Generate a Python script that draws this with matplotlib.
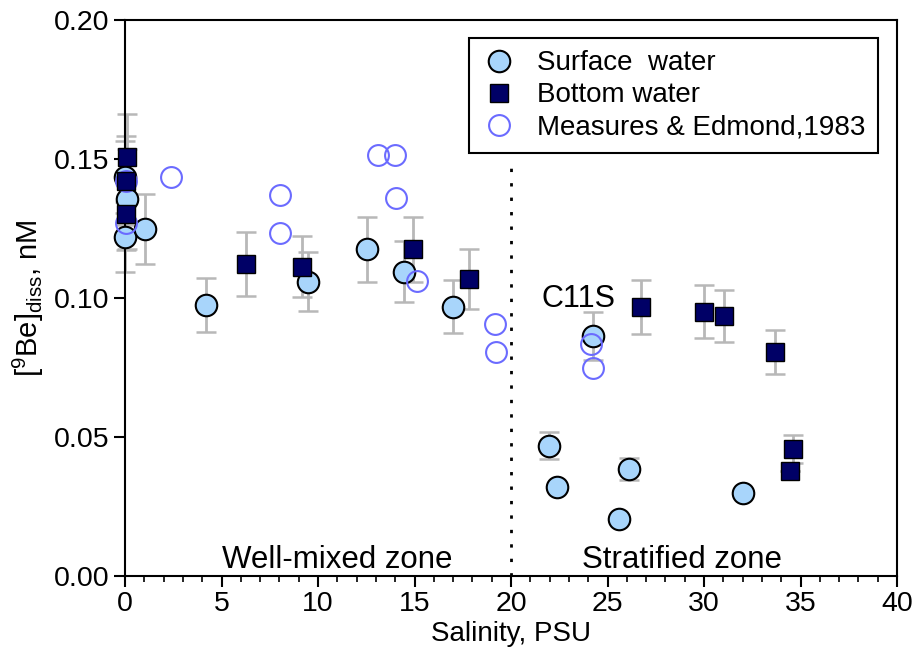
import numpy as np
import matplotlib.pyplot as plt
from matplotlib.lines import Line2D
from matplotlib.ticker import MultipleLocator, FormatStrFormatter

plt.rcParams['font.family'] = ['Liberation Sans', 'DejaVu Sans']
plt.rcParams['mathtext.fontset'] = 'custom'
plt.rcParams['mathtext.rm'] = 'Liberation Sans'
plt.rcParams['mathtext.it'] = 'Liberation Sans:italic'

# surface water samples
surf_sal = [0.0, 0.09, 0.0, 1.04, 4.2, 9.5, 12.52, 14.46, 16.98, 24.26, 21.97, 22.37, 26.13, 25.6, 32.04]
surf_be = [0.1436, 0.1356, 0.1219, 0.1248, 0.0975, 0.1059, 0.1175, 0.1095, 0.0969, 0.0863,
           0.0469, 0.0319, 0.0384, 0.0204, 0.0297]
surf_err = [0.013, 0.018, 0.0125, 0.0125, 0.0096, 0.0105, 0.0118, 0.011, 0.0094, 0.0086,
            0.0048, 0.001, 0.004, 0.0, 0.0]

# bottom water samples
bot_sal = [0.09, 0.05, 0.05, 6.25, 9.16, 14.94, 17.84, 26.72, 30.02, 31.05, 33.68, 34.63, 34.46]
bot_be = [0.1507, 0.1422, 0.1302, 0.1122, 0.1113, 0.1175, 0.1068, 0.0967, 0.0951, 0.0935,
          0.0807, 0.0456, 0.0379]
bot_err = [0.0155, 0.016, 0.013, 0.0114, 0.011, 0.0118, 0.0109, 0.0096, 0.0096, 0.0094,
           0.0079, 0.005, 0.0]

# Measures & Edmond, 1983
me_sal = [0.05, 0.05, 2.37, 8.03, 8.03, 13.12, 13.99, 14.04, 15.15, 19.19, 19.22, 24.13, 24.23]
me_be = [0.1422, 0.127, 0.1436, 0.137, 0.1233, 0.1514, 0.1514, 0.1361, 0.1061, 0.0905,
         0.0806, 0.0835, 0.0747]

surf_color = '#a8d5fb'
bot_color = '#000066'
me_color = '#6b6bff'
err_color = '#b8b8b8'

fig = plt.figure(figsize=(9.21, 6.59), dpi=100)
ax = fig.add_axes([125/921, 1-576/659, 772/921, 556/659])

for xs, ys, es in [(surf_sal, surf_be, surf_err), (bot_sal, bot_be, bot_err)]:
    eb = ax.errorbar(xs, ys, yerr=es, fmt='none', ecolor=err_color,
                     elinewidth=2, capsize=7, capthick=1.8, zorder=1)
    for art in eb.lines[1] + eb.lines[2]:
        art.set_clip_on(False)

ax.plot(surf_sal, surf_be, 'o', ms=15.5, mfc=surf_color, mec='black', mew=1.5,
        zorder=3, clip_on=False)
ax.plot(me_sal, me_be, 'o', ms=15, mfc='none', mec=me_color, mew=1.5, zorder=4, clip_on=False)
ax.plot(bot_sal, bot_be, 's', ms=13, mfc=bot_color, mec='black', mew=1, zorder=5, clip_on=False)

# zone boundary
ax.plot([20, 20], [0, 0.1495], color='black', lw=2, ls=(0, (1.2, 4)), zorder=2)

ax.text(11.0, 0.003, 'Well-mixed zone', ha='center', va='baseline', fontsize=22.5)
ax.text(28.84, 0.003, 'Stratified zone', ha='center', va='baseline', fontsize=22.5)
ax.text(23.52, 0.0967, 'C11S', ha='center', va='baseline', fontsize=22)

ax.set_xlim(0, 40)
ax.set_ylim(0, 0.20)
ax.set_xticks(np.arange(0, 41, 5))
ax.set_yticks(np.arange(0, 0.201, 0.05))
ax.xaxis.set_minor_locator(MultipleLocator(1))
ax.yaxis.set_major_formatter(FormatStrFormatter('%.2f'))
ax.tick_params(which='major', direction='out', length=8, width=1.5, labelsize=20.5, pad=3)
ax.tick_params(which='minor', direction='out', length=4, width=1.2)
for s in ax.spines.values():
    s.set_linewidth(1.5)

ax.set_xlabel('Salinity, PSU', fontsize=20, labelpad=3)
ax.set_ylabel(r'[$^{9}$Be]$_{\rm diss}$, nM', fontsize=21, labelpad=6)

handles = [
    Line2D([], [], ls='none', marker='o', ms=15.5, mfc=surf_color, mec='black', mew=1.5),
    Line2D([], [], ls='none', marker='s', ms=13, mfc=bot_color, mec='black', mew=1),
    Line2D([], [], ls='none', marker='o', ms=15, mfc='none', mec=me_color, mew=1.5),
]
labels = ['Surface  water', 'Bottom water', 'Measures & Edmond,1983']
leg = ax.legend(handles, labels, loc='upper right', bbox_to_anchor=(0.975, 0.968),
                fontsize=20, frameon=True, fancybox=False, framealpha=1,
                edgecolor='black', borderpad=0.45, labelspacing=0.22,
                handletextpad=0.7, handlelength=1.3, borderaxespad=0)
leg.get_frame().set_linewidth(1.5)

fig.savefig('out.png', dpi=100)
